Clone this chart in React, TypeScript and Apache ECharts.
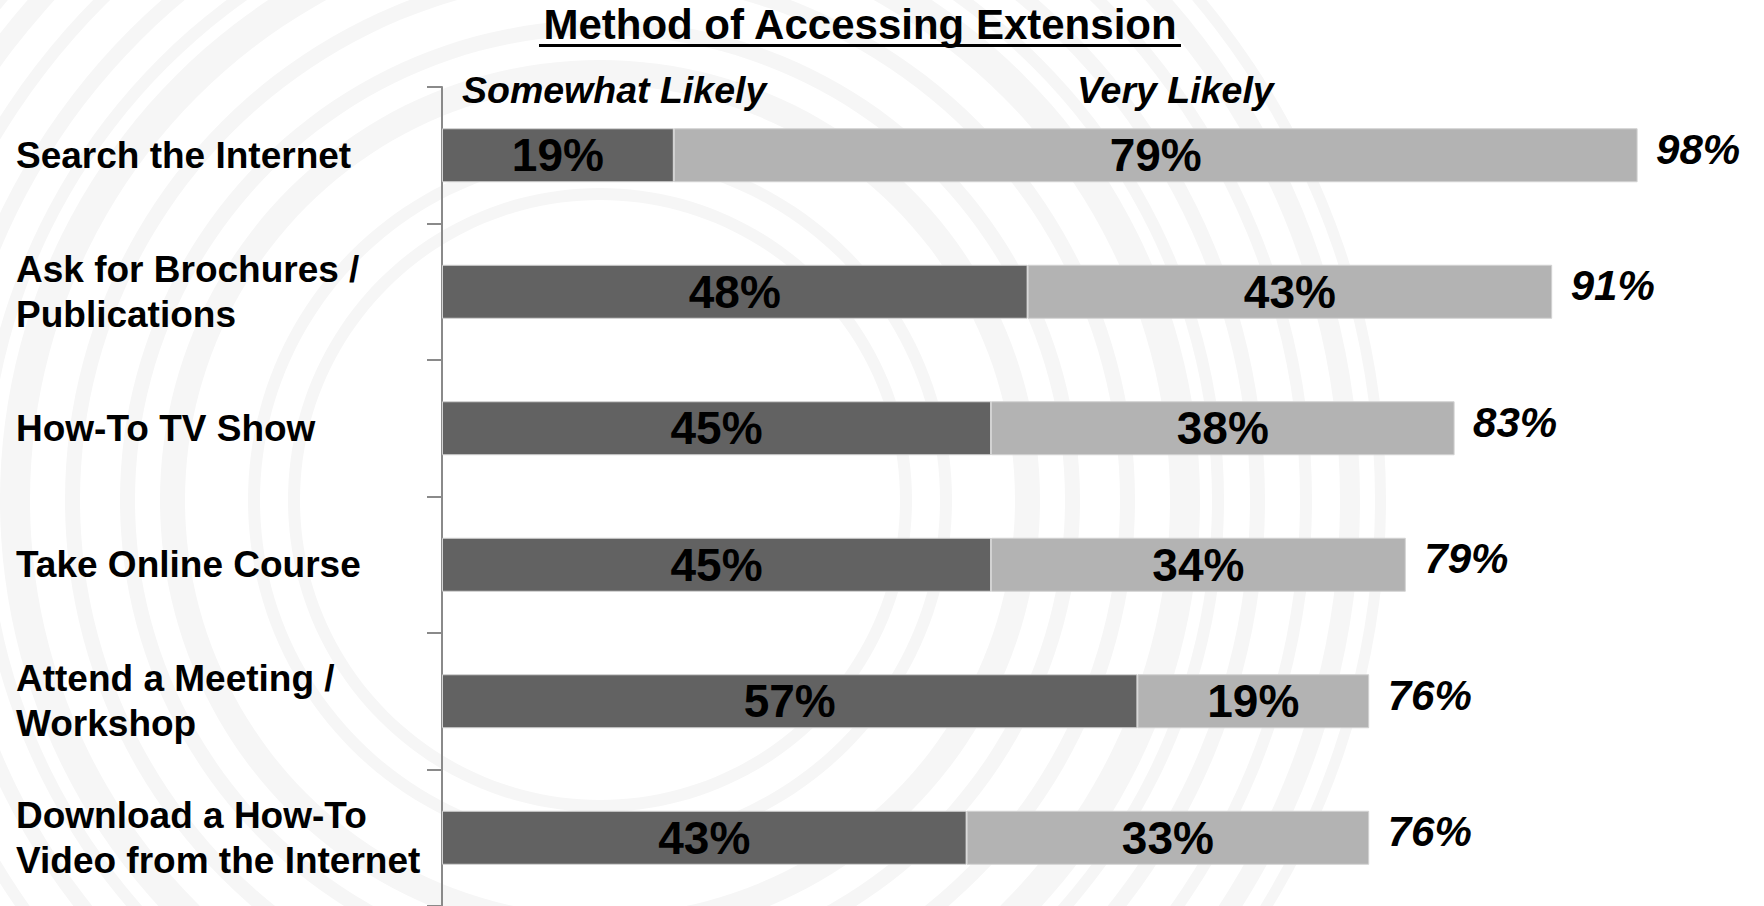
import React, { useEffect, useRef } from "react";
import * as echarts from "echarts";

const titleText = "Method of Accessing Extension";
const categories = [
  "Search the Internet",
  "Ask for Brochures /\nPublications",
  "How-To TV Show",
  "Take Online Course",
  "Attend a Meeting /\nWorkshop",
  "Download a How-To\nVideo from the Internet",
];
const seriesNames = ["Somewhat Likely", "Very Likely"];
const somewhatLikely = [19, 48, 45, 45, 57, 43];
const veryLikely = [79, 43, 38, 34, 19, 33];
const totals = [98, 91, 83, 79, 76, 76];

const FONT = "'Liberation Sans', Arial, Helvetica, sans-serif";
const ringRadii: [number, number][] = [
  [300, 312], [340, 352], [415, 440], [465, 480], [520, 535], [570, 600],
  [612, 624], [650, 665], [700, 712], [740, 760], [775, 786],
];

export default function App() {
  const ref = useRef<HTMLDivElement>(null);
  useEffect(() => {
    const chart = echarts.init(ref.current!, null, { renderer: "svg" });
    const rings = ringRadii.map(([r0, r]) => ({
      type: "ring",
      z: -10,
      silent: true,
      shape: { cx: 600, cy: 500, r0, r },
      style: { fill: "#f6f6f6" },
    }));
    chart.setOption({
      animation: false,
      backgroundColor: "#ffffff",
      grid: { left: 442, top: 87, width: 1220, height: 821, containLabel: false },
      xAxis: { type: "value", min: 0, max: 100, show: false },
      yAxis: {
        type: "category",
        inverse: true,
        data: categories,
        axisLine: { show: true, lineStyle: { color: "#8a8a8a", width: 2 } },
        axisTick: { show: true, length: 15, lineStyle: { color: "#8a8a8a", width: 2 } },
        axisLabel: {
          align: "left",
          margin: 426,
          fontSize: 37,
          fontWeight: "bold",
          color: "#000",
          lineHeight: 45,
          fontFamily: FONT,
        },
      },
      graphic: [
        ...rings,
        {
          type: "text",
          x: 860,
          y: 24,
          z: 10,
          style: {
            text: titleText,
            fill: "#000",
            font: `bold 42px ${FONT}`,
            textAlign: "center",
            textVerticalAlign: "middle",
          },
        },
        {
          type: "rect",
          z: 10,
          shape: { x: 539, y: 44, width: 642, height: 3 },
          style: { fill: "#000" },
        },
        {
          type: "text",
          x: 462,
          y: 90,
          z: 10,
          style: {
            text: seriesNames[0],
            fill: "#000",
            font: `italic bold 37.5px ${FONT}`,
            textAlign: "left",
            textVerticalAlign: "middle",
          },
        },
        {
          type: "text",
          x: 1077,
          y: 90,
          z: 10,
          style: {
            text: seriesNames[1],
            fill: "#000",
            font: `italic bold 37.5px ${FONT}`,
            textAlign: "left",
            textVerticalAlign: "middle",
          },
        },
      ],
      series: [
        {
          name: seriesNames[0],
          type: "bar",
          stack: "total",
          data: somewhatLikely,
          barWidth: 54,
          itemStyle: { color: "#626262", borderColor: "#d2d2d2", borderWidth: 1 },
          label: {
            show: true,
            position: "inside",
            formatter: "{c}%",
            color: "#000",
            fontSize: 46,
            fontWeight: "bold",
            fontFamily: FONT,
          },
        },
        {
          name: seriesNames[1],
          type: "bar",
          stack: "total",
          data: veryLikely,
          barWidth: 54,
          itemStyle: { color: "#b3b3b3", borderColor: "#d2d2d2", borderWidth: 1 },
          label: {
            show: true,
            position: "inside",
            formatter: "{c}%",
            color: "#000",
            fontSize: 46,
            fontWeight: "bold",
            fontFamily: FONT,
          },
        },
        {
          name: "Total",
          type: "scatter",
          data: totals.map((t, i) => [t, i]),
          symbolSize: 1,
          itemStyle: { color: "rgba(0,0,0,0)", opacity: 1 },
          label: {
            show: true,
            position: "right",
            distance: 18,
            offset: [0, -6],
            formatter: (p: any) => `${p.value[0]}%`,
            color: "#000",
            opacity: 1,
            fontSize: 42,
            fontWeight: "bold",
            fontStyle: "italic",
            fontFamily: FONT,
          },
        },
      ],
    });
    return () => chart.dispose();
  }, []);
  return (
    <div
      ref={ref}
      style={{ position: "fixed", left: 0, top: 0, width: 1764, height: 906 }}
    />
  );
}
